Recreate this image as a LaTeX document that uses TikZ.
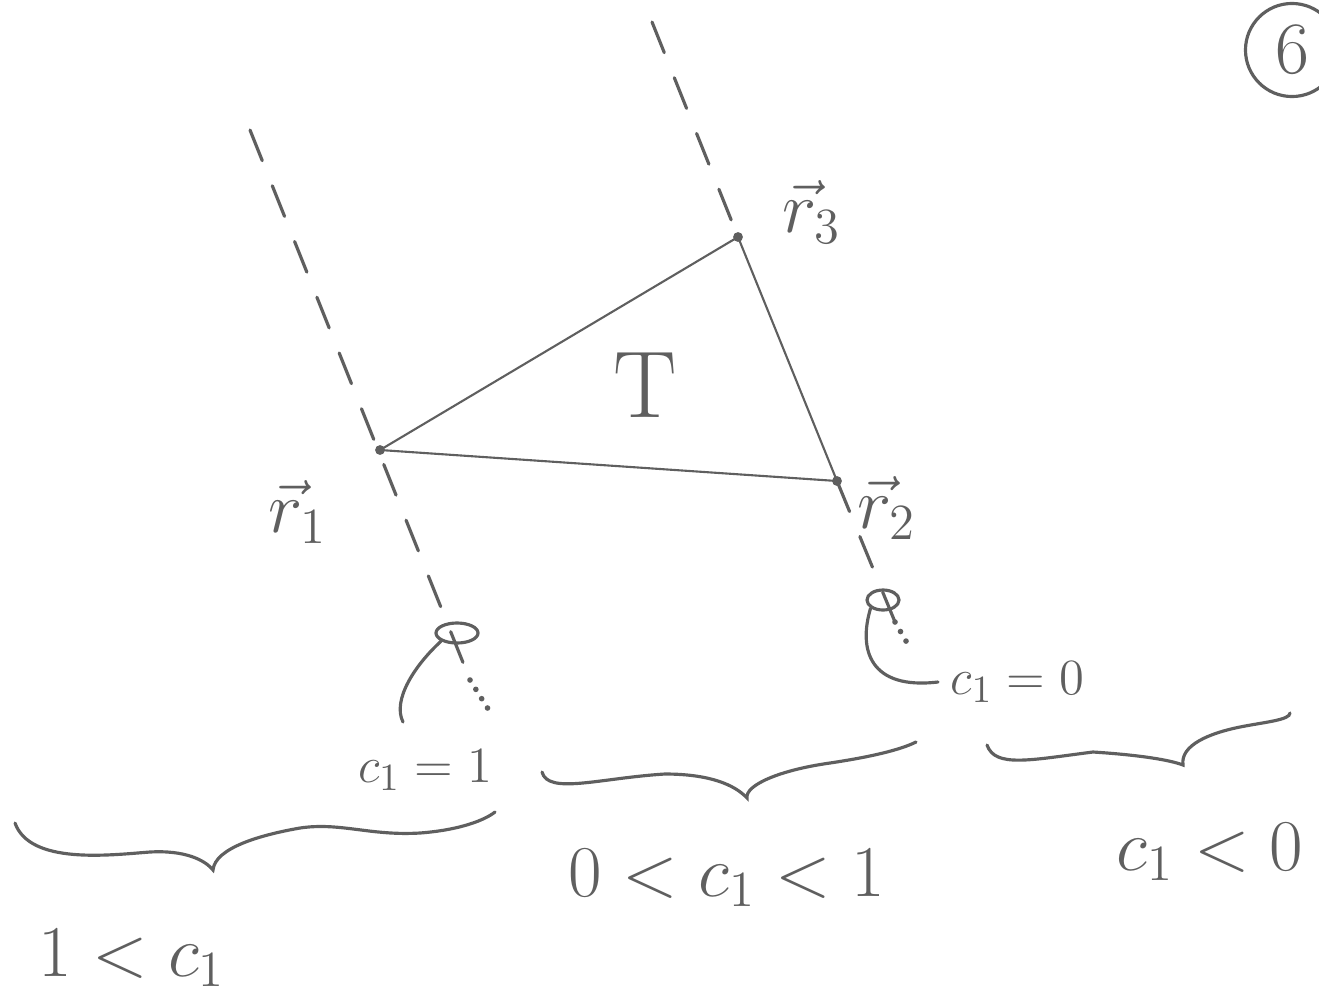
\documentclass[tikz,border=0pt]{standalone}
\usepackage{amsmath}
\usetikzlibrary{shapes.geometric, positioning, calc}
\definecolor{Pencil}{RGB}{95, 95, 95}

\begin{document}
\begin{tikzpicture}[
    x=0.01cm, y=-0.01cm,
    pencil/.style={draw=Pencil, line width=0.9pt, line cap=round},
    guide/.style={pencil, dash pattern=on 0.33cm off 0.27cm},
    trail/.style={draw=Pencil, line width=1.6pt, line cap=round, dash pattern=on 0pt off 0.11cm},
    loop/.style={draw=Pencil, ellipse, line width=0.9pt, inner sep=0pt, minimum width=0.42cm, minimum height=0.2cm},
    lab/.style={text=Pencil, font=\fontsize{21}{25}\selectfont},
    smalllab/.style={text=Pencil, font=\fontsize{15}{18}\selectfont}
  ]
    \useasboundingbox (0,0) rectangle (1319,1000);

    % Ecken des Dreiecks
    \coordinate (r1) at (380,450);
    \coordinate (r3) at (738,237);
    \coordinate (r2) at (837,481);

    % Hilfslinien (gestrichelt)
    \coordinate (top1) at (250,130);
    \coordinate (stub1) at (470,680);
    \coordinate (end1) at (490,712);
    \coordinate (top2) at (652,22);
    \coordinate (stub2) at (895,622);
    \coordinate (end2) at (910,648);
    \draw[guide] (top1) -- (stub1);
    \draw[trail] (stub1) -- (end1);
    \draw[guide] (top2) -- (r3);
    \draw[guide] (r2) -- (stub2);
    \draw[trail] (stub2) -- (end2);

    % Dreieck T
    \draw[pencil, line width=0.6pt] (r1) -- (r3) -- (r2) -- cycle;
    \foreach \v in {r1, r2, r3}
      \fill[Pencil] (\v) circle (1.4pt);
    \node[lab, font=\fontsize{27}{30}\selectfont] (T) at (645,385) {T};

    \node[lab] (lr1) at (298,512) {$\vec r_1$};
    \node[lab] (lr3) at (812,212) {$\vec r_3$};
    \node[lab] (lr2) at (887,508) {$\vec r_2$};

    % c_1 = 1 und c_1 = 0
    \node[loop] (loop1) at (457,633) {};
    \node[loop, minimum width=0.32cm] (loop2) at (883,600) {};
    \coordinate (lead1) at (403,722);
    \draw[pencil] (loop1.south west) .. controls (415,665) and (392,700) .. (lead1);
    \node[smalllab] (eq1) at (425,770) {$c_1 = 1$};
    \node[smalllab, anchor=west] (eq0) at (938,682) {$c_1 = 0$};
    \draw[pencil] (loop2.south west) .. controls (858,650) and (870,690) .. (eq0.west);

    % Klammern
    \coordinate (b1l) at (15,823);
    \coordinate (b1t) at (213,870);
    \coordinate (b1r) at (495,812);
    \draw[pencil] (b1l) .. controls (30,865) and (110,855) .. (150,852)
      .. controls (185,850) and (205,860) .. (b1t)
      .. controls (215,848) and (260,835) .. (300,828)
      .. controls (340,822) and (370,836) .. (420,833)
      .. controls (460,830) and (485,820) .. (b1r);
    \coordinate (b2l) at (542,772);
    \coordinate (b2t) at (747,798);
    \coordinate (b2r) at (916,742);
    \draw[pencil] (b2l) .. controls (548,795) and (600,778) .. (665,774)
      .. controls (710,774) and (735,785) .. (b2t)
      .. controls (745,785) and (780,770) .. (830,763)
      .. controls (870,757) and (900,750) .. (b2r);
    \coordinate (b3l) at (987,745);
    \coordinate (b3t) at (1183,765);
    \coordinate (b3r) at (1290,713);
    \draw[pencil] (b3l) .. controls (995,768) and (1030,760) .. (1093,752)
      .. controls (1140,755) and (1170,760) .. (b3t)
      .. controls (1180,745) and (1210,733) .. (1240,727)
      .. controls (1265,722) and (1290,720) .. (b3r);

    \node[lab] (gt1) at (132,958) {$1 < c_1$};
    \node[lab] (mid) at (727,878) {$0 < c_1 < 1$};
    \node[lab] (lt0) at (1210,852) {$c_1 < 0$};

    % Seitenzahl
    \node[lab, draw=Pencil, circle, line width=0.9pt, minimum size=0.85cm] (page) at (1292,50) {6};
\end{tikzpicture}
\end{document}
